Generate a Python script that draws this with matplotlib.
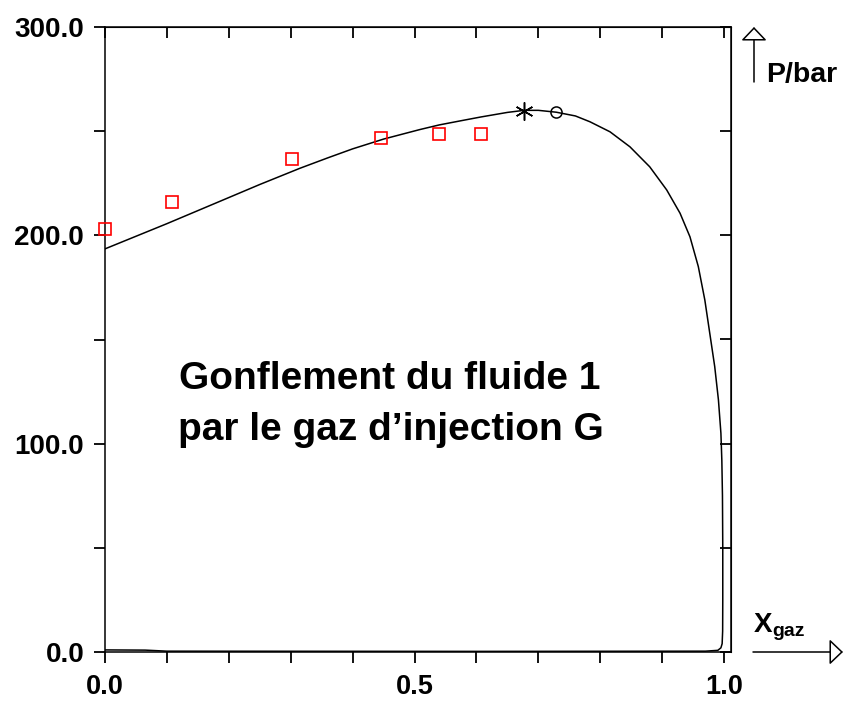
import matplotlib
matplotlib.use("Agg")
import matplotlib.pyplot as plt
from matplotlib.patches import FancyArrowPatch

plt.rcParams['font.family'] = ['Liberation Sans', 'DejaVu Sans']
plt.rcParams['font.weight'] = 'bold'

# phase envelope (bubble + dew branch, closed along the bottom)
x_env = [0.0, 0.1, 0.191, 0.25, 0.315, 0.36, 0.4, 0.45, 0.509, 0.54, 0.575, 0.607,
         0.65, 0.677, 0.70, 0.729, 0.76, 0.7835, 0.8158, 0.848, 0.88, 0.9074,
         0.929, 0.945, 0.9585, 0.969, 0.977, 0.985, 0.991, 0.995, 0.9965,
         0.9975, 0.998, 0.998, 0.9978, 0.997, 0.995, 0.99, 0.97,
         0.6, 0.1, 0.065, 0.0]
p_env = [193.5, 205.6, 217.0, 224.4, 232.2, 237.2, 241.5, 246.2, 250.8, 253.0, 255.0, 256.8,
         259.0, 260.0, 260.0, 259.1, 257.3, 254.5, 249.7, 242.5, 232.9, 221.8,
         210.6, 199.3, 185.0, 169.0, 153.0, 137.0, 121.0, 105.0, 92.0,
         75.0, 50.0, 25.0, 10.0, 4.0, 2.0, 0.8, 0.4,
         0.3, 0.4, 0.9, 1.0]

# measured saturation pressures
x_exp = [0.0, 0.108, 0.302, 0.446, 0.540, 0.607]
p_exp = [203.2, 216.2, 236.5, 246.8, 248.7, 248.7]

# critical point and cricondenbar
x_crit, p_crit = 0.729, 259.1
x_star, p_star = 0.677, 259.8

x_ticks = [i / 10 for i in range(11)]
x_labels = ['0.0', '', '', '', '', '0.5', '', '', '', '', '1.0']
y_ticks = [0, 50, 100, 150, 200, 250, 300]
y_labels = ['0.0', '', '100.0', '', '200.0', '', '300.0']

W, H = 845, 702
fig = plt.figure(figsize=(W / 100, H / 100), dpi=100)
ax = fig.add_axes([105 / W, 1 - 652 / H, (731 - 105) / W, (652 - 27) / H])

ax.plot(x_env, p_env, color='black', lw=1.1)
ax.plot(x_exp, p_exp, ls='none', marker='s', ms=8.5, mfc='none', mec='red', mew=1.2,
        clip_on=False, zorder=5)
ax.plot([x_star], [p_star], ls='none', marker=(6, 2, 0), ms=13, mec='black', mew=1.1)
ax.plot([x_crit], [p_crit], ls='none', marker='o', ms=8, mfc='none', mec='black', mew=1.1)

ax.set_xlim(0, 1.0113)
ax.set_ylim(0, 300)
ax.set_xticks(x_ticks)
ax.set_xticklabels(x_labels)
ax.set_yticks(y_ticks)
ax.set_yticklabels(y_labels)
ax.tick_params(direction='out', length=8, width=1.3, labelsize=20)
ax.tick_params(axis='x', pad=8, labelsize=19.5)
ax.tick_params(axis='y', pad=7)
for s in ax.spines.values():
    s.set_linewidth(1.1)

# inward ticks on the top and right frame
top = ax.secondary_xaxis('top')
top.set_xticks(x_ticks)
top.tick_params(direction='in', length=8, width=1.3, labeltop=False)
right = ax.secondary_yaxis('right')
right.set_yticks(y_ticks)
right.tick_params(direction='in', length=8, width=1.3, labelright=False)

ax.text(390 / W, 1 - 389 / H, 'Gonflement du fluide 1', transform=fig.transFigure,
        ha='center', va='baseline', fontsize=28, fontweight='bold')
ax.text(391 / W, 1 - 440 / H, 'par le gaz d\u2019injection G', transform=fig.transFigure,
        ha='center', va='baseline', fontsize=28, fontweight='bold')

# axis arrows with open heads
def fp(px, py):
    return (px / W, 1 - py / H)

arr_style = '-|>,head_length=0.42,head_width=0.4'
for a, b in [((754, 82), (754, 27)), ((753, 652), (843, 652))]:
    fig.patches.append(FancyArrowPatch(fp(*a), fp(*b), transform=fig.transFigure,
                                       arrowstyle=arr_style, mutation_scale=20,
                                       fc='white', ec='black', lw=1.1,
                                       shrinkA=0, shrinkB=0))

fig.text(*fp(766, 82), 'P/bar', ha='left', va='baseline', fontsize=20.5, fontweight='bold')
fig.text(*fp(754, 632), 'X', ha='left', va='baseline', fontsize=20, fontweight='bold')
fig.text(*fp(772, 636), 'gaz', ha='left', va='baseline', fontsize=14, fontweight='bold')

fig.savefig('out.png', dpi=100)
